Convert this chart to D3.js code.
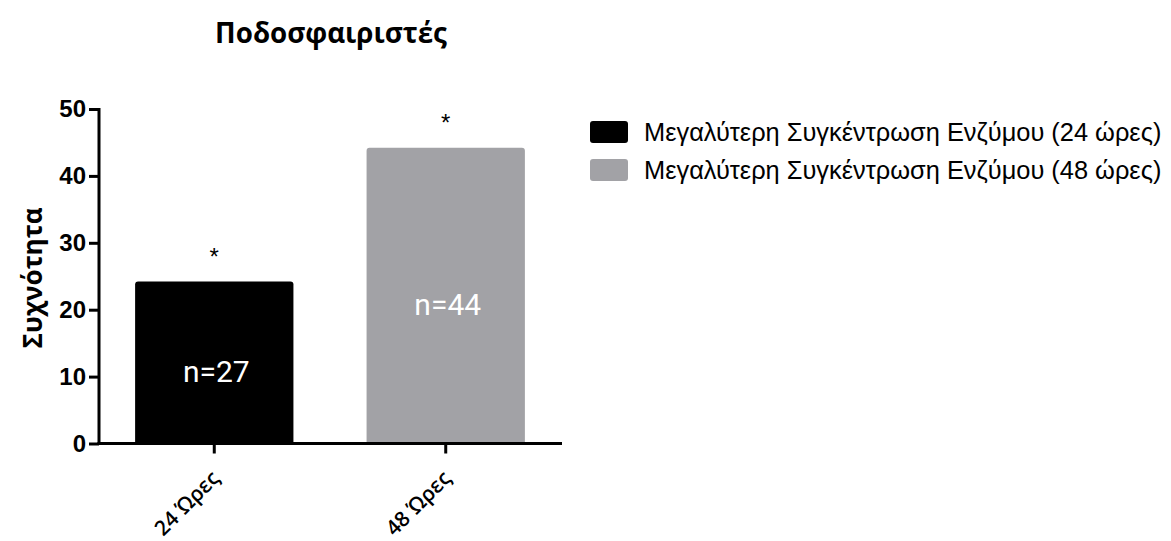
<!DOCTYPE html>
<html>
<head>
<meta charset="utf-8">
<script src="https://cdn.jsdelivr.net/npm/d3@7"></script>
<style>
  html, body { margin: 0; padding: 0; background: #fff; }
  svg { display: block; }
</style>
</head>
<body>
<svg id="chart" width="1171" height="541"></svg>
<script>
// Data
const categories = ["24 Ώρες", "48 Ώρες"];
const frequencies = [24.2, 44.2];
const sampleLabels = ["n=27", "n=44"];
const significance = ["*", "*"];
const seriesNames = [
  "Μεγαλύτερη Συγκέντρωση Ενζύμου (24 ώρες)",
  "Μεγαλύτερη Συγκέντρωση Ενζύμου (48 ώρες)"
];
const yTicks = [0, 10, 20, 30, 40, 50];
const titleText = "Ποδοσφαιριστές";
const yAxisTitle = "Συχνότητα";

const colors = ["#000000", "#a2a2a6"];

const svg = d3.select("#chart");

const x = d3.scaleBand()
  .domain(categories)
  .range([99, 561])
  .paddingInner(0.316)
  .paddingOuter(0.156);

const y = d3.scaleLinear().domain([0, 50]).range([443.5, 109]);

// Bars with slightly rounded top corners
svg.append("g").selectAll("path")
  .data(categories)
  .join("path")
  .attr("fill", (d, i) => colors[i])
  .attr("d", (d, i) => {
    const x0 = x(d), w = x.bandwidth(), yt = y(frequencies[i]), yb = y(0), r = 3;
    return `M${x0},${yb} V${yt + r} Q${x0},${yt} ${x0 + r},${yt} H${x0 + w - r} Q${x0 + w},${yt} ${x0 + w},${yt + r} V${yb} Z`;
  });

// Sample size labels inside bars
svg.append("g").selectAll("text")
  .data(categories)
  .join("text")
  .attr("x", d => x(d) + x.bandwidth() / 2 + 2)
  .attr("y", (d, i) => (y(frequencies[i]) + y(0)) / 2 + 19)
  .attr("text-anchor", "middle")
  .attr("fill", "#ffffff")
  .style("font-family", "Roboto, 'Liberation Sans', sans-serif")
  .style("font-size", "30px")
  .text((d, i) => sampleLabels[i]);

// Significance markers
svg.append("g").selectAll("text")
  .data(categories)
  .join("text")
  .attr("x", d => x(d) + x.bandwidth() / 2)
  .attr("y", (d, i) => y(frequencies[i]) - 17)
  .attr("text-anchor", "middle")
  .attr("fill", "#000")
  .style("font-family", "'Liberation Sans', sans-serif")
  .style("font-size", "24px")
  .text((d, i) => significance[i]);

// Y axis
const yAxis = svg.append("g")
  .attr("transform", "translate(99,0)")
  .call(d3.axisLeft(y).tickValues(yTicks).tickSize(10).tickPadding(3).tickSizeOuter(0));
yAxis.select(".domain").attr("stroke", "#000").attr("stroke-width", 3)
  .attr("d", `M0,${y(50) - 1}V${y(0) + 1.5}`);
yAxis.selectAll(".tick line").attr("stroke", "#000").attr("stroke-width", 3);
yAxis.selectAll(".tick text")
  .attr("fill", "#000")
  .style("font-family", "'Liberation Sans', Arial, sans-serif")
  .style("font-weight", "bold")
  .style("font-size", "24px");

// X axis
const xAxis = svg.append("g")
  .attr("transform", `translate(0,${y(0)})`)
  .call(d3.axisBottom(x).tickSize(10).tickSizeOuter(0));
xAxis.select(".domain").attr("stroke", "#000").attr("stroke-width", 3)
  .attr("d", `M97.5,0H562`);
xAxis.selectAll(".tick line").attr("stroke", "#000").attr("stroke-width", 3);
xAxis.selectAll(".tick text")
  .attr("fill", "#000")
  .style("font-family", "'Open Sans', sans-serif")
  .style("font-weight", "600")
  .style("font-size", "21px")
  .attr("text-anchor", "end")
  .attr("transform", "translate(1,31) rotate(-45)")
  .attr("dy", "0.35em")
  .attr("y", 0)
  .attr("x", 0);

// Title
svg.append("text")
  .attr("x", 331)
  .attr("y", 43)
  .attr("text-anchor", "middle")
  .style("font-family", "'Open Sans', sans-serif")
  .style("font-weight", "bold")
  .style("font-size", "27.7px")
  .text(titleText);

// Y axis title
svg.append("text")
  .attr("transform", "translate(42,278) rotate(-90)")
  .attr("text-anchor", "middle")
  .style("font-family", "'Open Sans', sans-serif")
  .style("font-weight", "bold")
  .style("font-size", "26px")
  .text(yAxisTitle);

// Legend
const legend = svg.append("g").selectAll("g")
  .data(seriesNames)
  .join("g")
  .attr("transform", (d, i) => `translate(590,${121 + i * 38})`);
legend.append("rect")
  .attr("width", 38).attr("height", 22).attr("rx", 3)
  .attr("fill", (d, i) => colors[i]);
legend.append("text")
  .attr("x", 54).attr("y", 20)
  .style("font-family", "'Liberation Sans', Arial, sans-serif")
  .style("font-size", "25.4px")
  .text(d => d);
</script>
</body>
</html>
